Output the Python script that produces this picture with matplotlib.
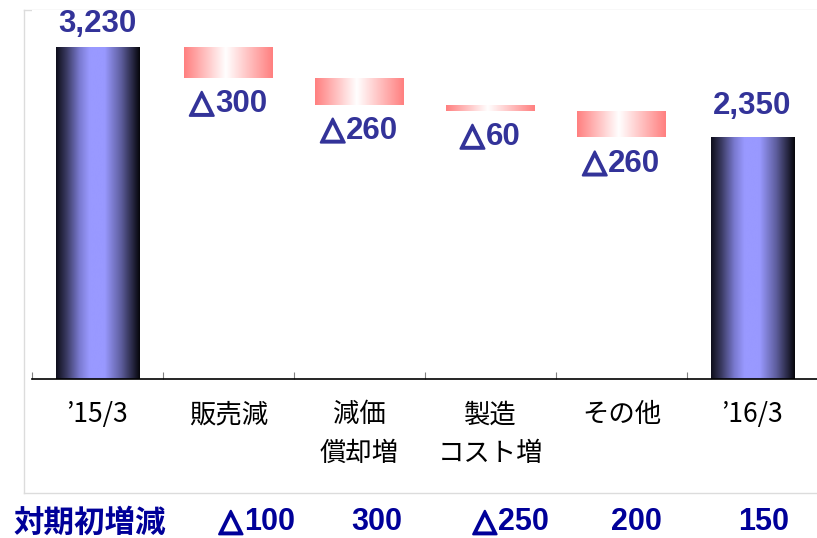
import numpy as np
import matplotlib.pyplot as plt
import matplotlib.patheffects as pe
from matplotlib.colors import LinearSegmentedColormap
from matplotlib.lines import Line2D
from matplotlib.ticker import FixedLocator
from matplotlib.offsetbox import TextArea, HPacker, AnnotationBbox

plt.rcParams['font.family'] = ['Liberation Sans', 'DejaVu Sans', 'Noto Sans CJK JP']

# operating profit bridge, FY '15/3 -> '16/3
categories = ["’15/3", "販売減", "減価\n償却増", "製造\nコスト増", "その他", "’16/3"]
start_value = 3230
changes = [-300, -260, -60, -260]
end_value = 2350

# year-on-year row under the chart
yoy_title = "対期初増減"
yoy_values = ["△100", "300", "△250", "200", "150"]

LABEL_BLUE = '#333399'
ROW_BLUE = '#000099'
W, H = 817, 538

blue_cmap = LinearSegmentedColormap.from_list('bar_blue', [
    (0.0, '#0e0e1a'), (0.12, '#38385f'), (0.28, '#7a7ad0'), (0.4, '#9999ff'),
    (0.58, '#9999ff'), (0.78, '#5d5d9c'), (0.92, '#25253f'), (1.0, '#05050a')])
red_cmap = LinearSegmentedColormap.from_list('bar_red', [
    (0.0, '#ff7f7f'), (0.47, '#ffffff'), (1.0, '#ff7f7f')])

fig = plt.figure(figsize=(W / 100, H / 100), dpi=100)
ax = fig.add_axes([32 / W, (H - 379) / H, 786 / W, 369 / H])


def gradient_bar(x, bottom, height, width, cmap):
    bar = ax.bar(x, height, width, bottom=bottom, color='none', edgecolor='none')[0]
    grad = np.linspace(0, 1, 256).reshape(1, -1)
    im = ax.imshow(grad, cmap=cmap, aspect='auto', interpolation='bicubic',
                   extent=(x - width / 2, x + width / 2, bottom, bottom + height), zorder=2)
    im.set_clip_path(bar)
    return bar


def delta_label(s, xy, xycoords, offset, align, color, size):
    # the △ sign gets a heavier outline than the font gives it
    props = dict(fontsize=size, fontweight='bold', color=color)
    parts = []
    if s.startswith('△'):
        tri = dict(props, path_effects=[pe.withStroke(linewidth=1.6, foreground=color)])
        parts.append(TextArea('△', textprops=tri))
        s = s[1:]
    parts.append(TextArea(s, textprops=props))
    box = HPacker(children=parts, align='baseline', pad=0, sep=1)
    ab = AnnotationBbox(box, xy, xycoords=xycoords, xybox=offset, boxcoords='offset points',
                        box_alignment=align, frameon=False, pad=0, annotation_clip=False)
    ax.add_artist(ab)


# totals
for x, v, off in [(0, start_value, 5.5), (5, end_value, 12)]:
    gradient_bar(x, 0, v, 0.634, blue_cmap)
    ax.annotate(f"{v:,}", (x, v), xytext=(0, off), textcoords='offset points',
                ha='center', va='bottom', fontsize=22.5, fontweight='bold',
                color=LABEL_BLUE, annotation_clip=False)

# decreases
running = start_value
for i, c in enumerate(changes, start=1):
    bottom = running + c
    gradient_bar(i, bottom, -c, 0.672, red_cmap)
    delta_label(f"△{-c}", (i, bottom), 'data', (0, -8), (0.5, 1), LABEL_BLUE, 22.5)
    running = bottom

ax.set_xlim(-0.5, 5.5)
ax.set_ylim(0, 3590)

for side in ['left', 'right', 'top']:
    ax.spines[side].set_visible(False)
ax.spines['bottom'].set_color('black')
ax.spines['bottom'].set_linewidth(1.2)
ax.set_yticks([])

ax.set_xticks(range(len(categories)))
ax.set_xticklabels(categories, fontsize=19, family=['Noto Sans CJK JP'], linespacing=1.55)
ax.tick_params(axis='x', which='major', length=0, pad=16)
ax.xaxis.set_minor_locator(FixedLocator(np.arange(-0.5, 6, 1)))
ax.tick_params(axis='x', which='minor', direction='in', length=5, color='#808080', width=0.8)

# light frame around the chart area, kept behind everything
frame = dict(color='#dcdcdc', lw=1.0, transform=fig.transFigure, zorder=-1)
left, top, bottom = 24 / W, 1 - 10 / H, 1 - 493 / H
fig.add_artist(Line2D([left, left], [bottom, top], **frame))
fig.add_artist(Line2D([left, 1.0], [top, top], **frame))
fig.add_artist(Line2D([left, 1.0], [bottom, bottom], **frame))

# year-on-year row
fig.text(13 / W, 6 / H, yoy_title, ha='left', va='baseline', fontsize=22,
         fontweight='bold', color=ROW_BLUE, family=['Noto Sans CJK JP'])
for px, s in zip([257, 377, 511, 636, 764], yoy_values):
    delta_label(s, (px / W, 0.5 / H), 'figure fraction', (0, 0), (0.5, 0), ROW_BLUE, 22)

fig.savefig('out.png', dpi=100)
